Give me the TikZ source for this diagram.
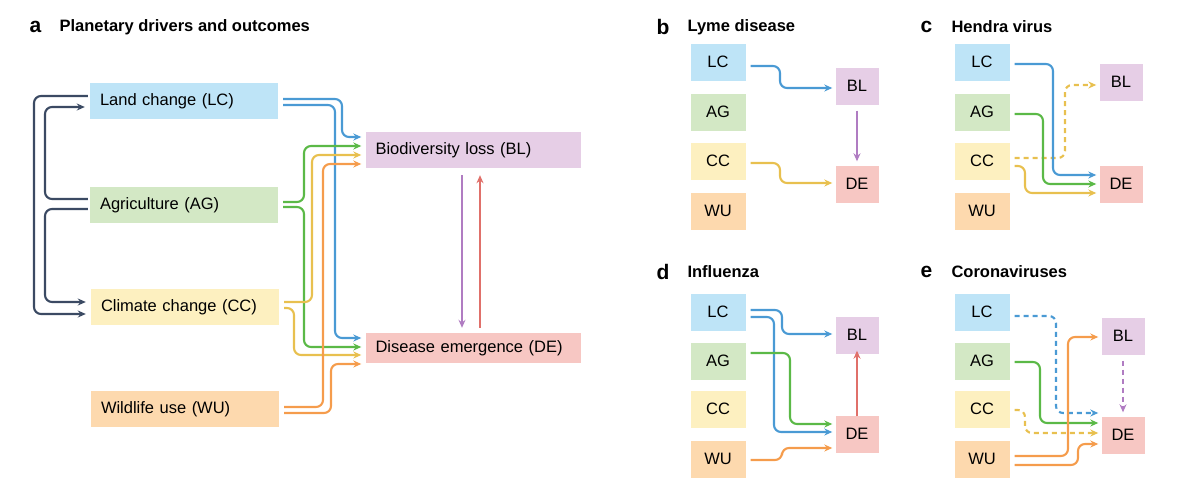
\documentclass[tikz,border=0pt]{standalone}
\usepackage{fontspec}
\setmainfont{Liberation Sans}
\usetikzlibrary{arrows.meta}
\definecolor{clc}{HTML}{BEE4F7}\definecolor{cag}{HTML}{D3E8C5}\definecolor{ccc}{HTML}{FDF0C0}
\definecolor{cwu}{HTML}{FDD9AE}\definecolor{cbl}{HTML}{E6CEE6}\definecolor{cde}{HTML}{F7C7C3}
\definecolor{ablue}{HTML}{4A9AD4}\definecolor{agreen}{HTML}{5BB947}\definecolor{ayel}{HTML}{E8C04F}
\definecolor{aor}{HTML}{F59C4C}\definecolor{apur}{HTML}{B07CC2}\definecolor{ared}{HTML}{E0706A}\definecolor{adark}{HTML}{3B4A63}
\begin{document}
\begin{tikzpicture}[x=1pt,y=-1pt,
 bigbox/.style={draw=none,inner sep=0pt,text width=168pt,align=left,minimum width=188pt,minimum height=36pt,font=\fontsize{16.5}{18}\selectfont},
 sm/.style={draw=none,inner sep=0pt,minimum width=55pt,minimum height=37pt,font=\fontsize{16.5}{18}\selectfont},
 smr/.style={draw=none,inner sep=0pt,minimum width=43pt,minimum height=37pt,font=\fontsize{16.5}{18}\selectfont},
 ttl/.style={anchor=west,font=\bfseries\fontsize{16.5}{18}\selectfont},
 lett/.style={anchor=west,font=\bfseries\fontsize{21}{23}\selectfont},
 ar/.style={line width=2.1pt,rounded corners=7pt,-{Stealth[length=8pt,width=7pt]}},
 pl/.style={line width=2.1pt,rounded corners=7pt}]
\useasboundingbox (0,0) rectangle (1200,488);
% panel a
\node[lett] (la) at (26,27) {a};
\node[ttl] (ta) at (56,27) {Planetary drivers and outcomes};
\node[bigbox,fill=clc] (LC) at (184,101) {Land change (LC)};
\node[bigbox,fill=cag] (AG) at (184,205) {Agriculture (AG)};
\node[bigbox,fill=ccc] (CC) at (185,307) {Climate change (CC)};
\node[bigbox,fill=cwu] (WU) at (185,409) {Wildlife use (WU)};
\node[bigbox,fill=cbl,text width=195pt,minimum width=215pt] (BL) at (473,150) {Biodiversity loss (BL)};
\node[bigbox,fill=cde,text width=195pt,minimum width=215pt,minimum height=30pt] (DE) at (473,348) {Disease emergence (DE)};
\begin{scope}[ar,shorten >=4pt]
\draw[ablue] ([xshift=5pt]LC.east|-0,99) -- (342,99) -- (342,137) -- (BL.west|-0,137);
\draw[ablue] ([xshift=5pt]LC.east|-0,105) -- (335,105) -- (335,338) -- (DE.west|-0,338);
\draw[agreen] ([xshift=5pt]AG.east|-0,202) -- (304,202) -- (304,146) -- (BL.west|-0,146);
\draw[agreen] ([xshift=5pt]AG.east|-0,207) -- (304,207) -- (304,347) -- (DE.west|-0,347);
\draw[ayel] ([xshift=5pt]CC.east|-0,302) -- (312,302) -- (312,155) -- (BL.west|-0,155);
\draw[ayel] ([xshift=5pt]CC.east|-0,308) -- (294,308) -- (294,355) -- (DE.west|-0,355);
\draw[aor] ([xshift=5pt]WU.east|-0,407) -- (323,407) -- (323,164) -- (BL.west|-0,164);
\draw[aor] ([xshift=5pt]WU.east|-0,413) -- (331,413) -- (331,364) -- (DE.west|-0,364);
\end{scope}
\begin{scope}[ar,adark,shorten >=5pt]
\draw ([xshift=-2pt]LC.west|-0,96) -- (34,96) -- (34,314) -- (CC.west|-0,314);
\draw ([xshift=-2pt]AG.west|-0,199) -- (45,199) -- (45,107) -- (LC.west|-0,107);
\draw ([xshift=-2pt]AG.west|-0,209) -- (45,209) -- (45,302) -- (CC.west|-0,302);
\end{scope}
\draw[ar,apur] ([yshift=-7pt]BL.south-|462,0) -- ([yshift=5pt]DE.north-|462,0);
\draw[ar,ared] ([yshift=5pt]DE.north-|480,0) -- ([yshift=-7pt]BL.south-|480,0);
% panel b
\node[lett] (lb) at (653,27) {b};
\node[ttl] (tb) at (684,27) {Lyme disease};
\node[sm,fill=clc] (bLC) at (718,62) {LC};
\node[sm,fill=cag] (bAG) at (718,112) {AG};
\node[sm,fill=ccc] (bCC) at (718,161) {CC};
\node[sm,fill=cwu] (bWU) at (718,211) {WU};
\node[smr,fill=cbl] (bBL) at (857,86) {BL};
\node[smr,fill=cde] (bDE) at (857,184) {DE};
\begin{scope}[ar,shorten >=3pt]
\draw[ablue] ([xshift=5pt]bLC.east|-0,66) -- (780,66) -- (780,88) -- (bBL.west|-0,88);
\draw[ayel] ([xshift=5pt]bCC.east|-0,163) -- (780,163) -- (780,183) -- (bDE.west|-0,183);
\draw[apur] ([yshift=-6pt]bBL.south) -- ([yshift=1pt]bDE.north);
\end{scope}
% panel c
\node[lett] (lc) at (917,27) {c};
\node[ttl] (tc) at (948,27) {Hendra virus};
\node[sm,fill=clc] (cLC) at (982,62) {LC};
\node[sm,fill=cag] (cAG) at (982,112) {AG};
\node[sm,fill=ccc] (cCC) at (982,161) {CC};
\node[sm,fill=cwu] (cWU) at (982,211) {WU};
\node[smr,fill=cbl] (cBL) at (1121,82) {BL};
\node[smr,fill=cde] (cDE) at (1121,184) {DE};
\begin{scope}[ar,shorten >=3pt]
\draw[ayel,dash pattern=on 5pt off 4pt] ([xshift=5pt]cCC.east|-0,158) -- (1065,158) -- (1065,85) -- (cBL.west|-0,85);
\draw[ablue] ([xshift=5pt]cLC.east|-0,64) -- (1053,64) -- (1053,175) -- (cDE.west|-0,175);
\draw[agreen] ([xshift=5pt]cAG.east|-0,114) -- (1043,114) -- (1043,184) -- (cDE.west|-0,184);
\draw[ayel] ([xshift=5pt]cCC.east|-0,166) -- (1025,166) -- (1025,193) -- (cDE.west|-0,193);
\end{scope}
% panel d
\node[lett] (ld) at (653,272) {d};
\node[ttl] (td) at (684,272) {Influenza};
\node[sm,fill=clc] (dLC) at (718,312) {LC};
\node[sm,fill=cag] (dAG) at (718,361) {AG};
\node[sm,fill=ccc] (dCC) at (718,409) {CC};
\node[sm,fill=cwu] (dWU) at (718,459) {WU};
\node[smr,fill=cbl] (dBL) at (857,335) {BL};
\node[smr,fill=cde] (dDE) at (857,434) {DE};
\begin{scope}[ar,shorten >=3pt]
\draw[ablue] ([xshift=5pt]dLC.east|-0,310) -- (782,310) -- (782,334) -- (dBL.west|-0,334);
\draw[ablue] ([xshift=5pt]dLC.east|-0,317) -- (774,317) -- (774,432) -- (dDE.west|-0,432);
\draw[agreen] ([xshift=5pt]dAG.east|-0,353) -- (790,353) -- (790,424) -- (dDE.west|-0,424);
\draw[aor] ([xshift=5pt]dWU.east|-0,460) -- (782,460) -- (782,448) -- (dDE.west|-0,448);
\draw[ared] ([yshift=-1pt]dDE.north) -- ([yshift=6pt]dBL.south);
\end{scope}
% panel e
\node[lett] (le) at (917,272) {e};
\node[ttl] (te) at (948,272) {Coronaviruses};
\node[sm,fill=clc] (eLC) at (982,312) {LC};
\node[sm,fill=cag] (eAG) at (982,361) {AG};
\node[sm,fill=ccc] (eCC) at (982,409) {CC};
\node[sm,fill=cwu] (eWU) at (982,459) {WU};
\node[smr,fill=cbl] (eBL) at (1123,336) {BL};
\node[smr,fill=cde] (eDE) at (1123,435) {DE};
\begin{scope}[ar,shorten >=3pt]
\draw[ablue,dash pattern=on 5pt off 4pt] ([xshift=5pt]eLC.east|-0,316) -- (1056,316) -- (1056,413) -- (eDE.west|-0,413);
\draw[agreen] ([xshift=5pt]eAG.east|-0,362) -- (1040,362) -- (1040,423) -- (eDE.west|-0,423);
\draw[ayel,dash pattern=on 5pt off 4pt] ([xshift=5pt]eCC.east|-0,410) -- (1025,410) -- (1025,433) -- (eDE.west|-0,433);
\draw[aor] ([xshift=5pt]eWU.east|-0,456) -- (1068,456) -- (1068,337) -- (eBL.west|-0,337);
\draw[aor] ([xshift=5pt]eWU.east|-0,465) -- (1078,465) -- (1078,444) -- (eDE.west|-0,444);
\draw[apur,dash pattern=on 5pt off 4pt] ([yshift=-6pt]eBL.south) -- ([yshift=1pt]eDE.north);
\end{scope}
\end{tikzpicture}
\end{document}
